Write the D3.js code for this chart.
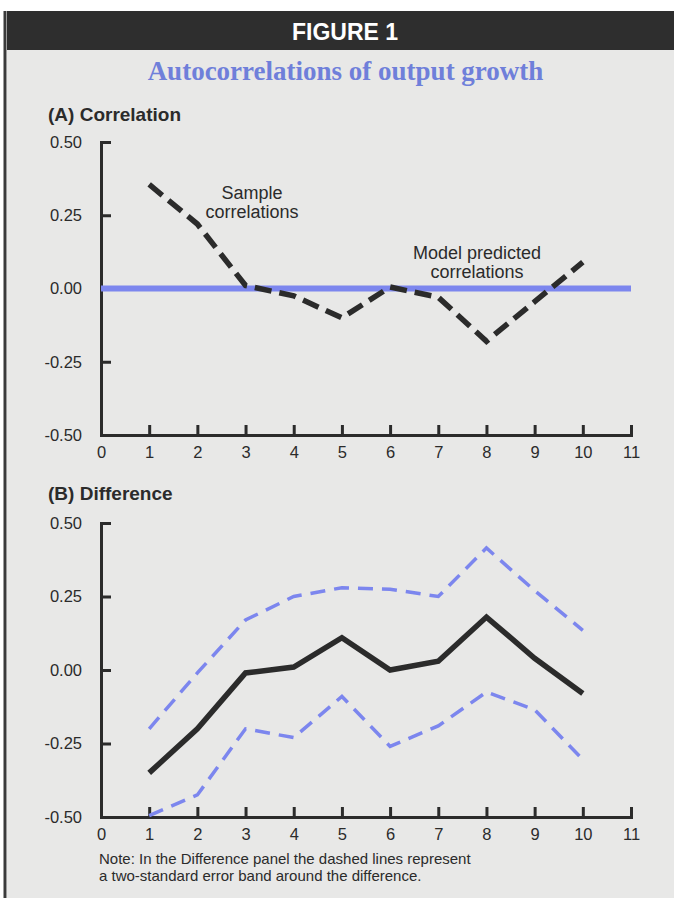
<!DOCTYPE html>
<html>
<head>
<meta charset="utf-8">
<script src="https://cdn.jsdelivr.net/npm/d3@7/dist/d3.min.js"></script>
<style>
  html, body { margin: 0; padding: 0; background: #ffffff; }
  svg { display: block; }
  text { font-family: "Liberation Sans", Arial, Helvetica, sans-serif; }
</style>
</head>
<body>
<svg id="chart" width="674" height="898"></svg>
<script>
// ---- data ----
const lags = [1, 2, 3, 4, 5, 6, 7, 8, 9, 10];
const sampleCorr = [0.355, 0.22, 0.01, -0.025, -0.10, 0.005, -0.03, -0.18, -0.045, 0.09];
const modelLags = [0, 11];
const modelCorr = [0, 0];
const difference = [-0.35, -0.20, -0.01, 0.01, 0.11, 0.00, 0.03, 0.18, 0.04, -0.08];
const upperBand = [-0.20, -0.01, 0.17, 0.25, 0.28, 0.275, 0.25, 0.415, 0.27, 0.135];
const lowerBand = [-0.495, -0.425, -0.20, -0.23, -0.09, -0.26, -0.19, -0.075, -0.135, -0.305];
const xTicks = [0, 1, 2, 3, 4, 5, 6, 7, 8, 9, 10, 11];
const yTicks = [0.50, 0.25, 0.00, -0.25, -0.50];
const yTickLabels = ["0.50", "0.25", "0.00", "-0.25", "-0.50"];

const svg = d3.select("#chart");
const INK = "#2b2b2b";
const BLUE = "#7c86ee";

// frame
svg.append("rect").attr("x", 7).attr("y", 11).attr("width", 667).attr("height", 887).attr("fill", "#e8e8e7");
svg.append("rect").attr("x", 7).attr("y", 11).attr("width", 667).attr("height", 39).attr("fill", "#2e2e2e");
svg.append("line").attr("x1", 5).attr("x2", 5).attr("y1", 11).attr("y2", 898)
  .attr("stroke", "#3a3a3a").attr("stroke-width", 3);

svg.append("text").attr("x", 345).attr("y", 40).attr("text-anchor", "middle")
  .attr("font-size", 23).attr("font-weight", "bold").attr("fill", "#ffffff").text("FIGURE 1");
svg.append("text").attr("x", 345.5).attr("y", 80).attr("text-anchor", "middle")
  .style("font-family", '"Liberation Serif", "Times New Roman", serif')
  .attr("font-size", 27).attr("font-weight", "bold").attr("fill", "#6f7fda")
  .text("Autocorrelations of output growth");

const x = d3.scaleLinear().domain([0, 11]).range([101, 631]);
const yA = d3.scaleLinear().domain([-0.5, 0.5]).range([435, 142]);
const yB = d3.scaleLinear().domain([-0.5, 0.5]).range([817, 523]);

function drawAxes(y) {
  const gy = svg.append("g").attr("transform", `translate(${x(0)},0)`)
    .call(d3.axisLeft(y).tickValues(yTicks).tickFormat((d, i) => yTickLabels[i])
      .tickSizeInner(-10).tickSizeOuter(0).tickPadding(19));
  const gx = svg.append("g").attr("transform", `translate(0,${y(-0.5)})`)
    .call(d3.axisBottom(x).tickValues(xTicks).tickFormat(d3.format("d"))
      .tickSizeInner(-10).tickSizeOuter(0).tickPadding(11));
  [gx, gy].forEach(g => {
    g.selectAll("path, line").attr("stroke", INK).attr("stroke-width", 3);
    g.selectAll("text").attr("fill", INK).attr("font-size", 16.5)
      .style("font-family", '"Liberation Sans", Arial, sans-serif');
  });
  gx.select(".domain").attr("stroke-linecap", "square");
  gy.select(".domain").attr("stroke-linecap", "square");
}

// ---- Panel A ----
svg.append("text").attr("x", 48).attr("y", 121).attr("font-size", 19).attr("font-weight", "bold")
  .attr("fill", INK).text("(A) Correlation");
drawAxes(yA);

const lineA = d3.line().x(d => x(d[0])).y(d => yA(d[1]));
svg.append("path").datum(modelLags.map((l, i) => [l, modelCorr[i]]))
  .attr("d", lineA).attr("fill", "none").attr("stroke", BLUE).attr("stroke-width", 6);
svg.append("path").datum(lags.map((l, i) => [l, sampleCorr[i]]))
  .attr("d", lineA).attr("fill", "none").attr("stroke", INK).attr("stroke-width", 5.5)
  .attr("stroke-dasharray", "17,8").attr("stroke-linejoin", "miter");

const ann = [
  { t: ["Sample", "correlations"], x: 252, y: 199 },
  { t: ["Model predicted", "correlations"], x: 477, y: 259 }
];
ann.forEach(a => {
  a.t.forEach((s, i) => {
    svg.append("text").attr("x", a.x).attr("y", a.y + i * 19).attr("text-anchor", "middle")
      .attr("font-size", 18).attr("fill", INK).text(s);
  });
});

// ---- Panel B ----
svg.append("text").attr("x", 48).attr("y", 500).attr("font-size", 19).attr("font-weight", "bold")
  .attr("fill", INK).text("(B) Difference");
drawAxes(yB);

const lineB = d3.line().x(d => x(d[0])).y(d => yB(d[1]));
[upperBand, lowerBand].forEach(band => {
  svg.append("path").datum(lags.map((l, i) => [l, band[i]]))
    .attr("d", lineB).attr("fill", "none").attr("stroke", BLUE).attr("stroke-width", 3.5)
    .attr("stroke-dasharray", "15,9");
});
svg.append("path").datum(lags.map((l, i) => [l, difference[i]]))
  .attr("d", lineB).attr("fill", "none").attr("stroke", INK).attr("stroke-width", 5.5)
  .attr("stroke-linejoin", "miter");

// note
const note = ["Note: In the Difference panel the dashed lines represent",
              "a two-standard error band around the difference."];
note.forEach((s, i) => {
  svg.append("text").attr("x", 99).attr("y", 864 + i * 17).attr("font-size", 15)
    .attr("fill", INK).text(s);
});
</script>
</body>
</html>
